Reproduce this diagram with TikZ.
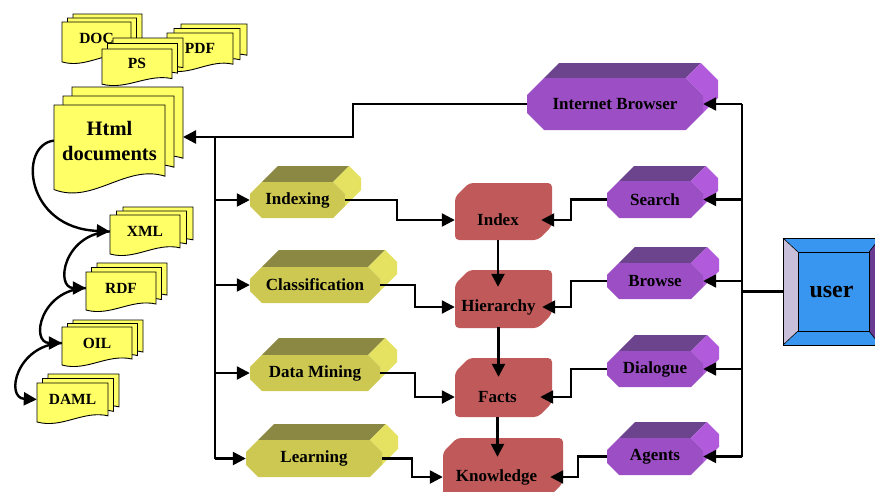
\documentclass[tikz,border=0pt]{standalone}
\usepackage{fontspec}
\setmainfont{Liberation Serif}
\usetikzlibrary{arrows.meta,positioning}
\definecolor{docyellow}{RGB}{255,255,102}
\definecolor{olvF}{RGB}{204,200,82}
\definecolor{olvT}{RGB}{138,136,66}
\definecolor{olvS}{RGB}{228,226,96}
\definecolor{purF}{RGB}{156,78,196}
\definecolor{purT}{RGB}{108,68,142}
\definecolor{purS}{RGB}{178,90,220}
\definecolor{facred}{RGB}{192,90,90}
\definecolor{usrblue}{RGB}{56,150,240}
\definecolor{usrlite}{RGB}{200,192,218}
\definecolor{usrdark}{RGB}{104,58,146}

\tikzset{
  docpage/.style={fill=docyellow, draw=black, line width=0.9pt},
  lbl/.style={inner sep=0pt, font=\fontsize{17}{17}\selectfont\bfseries},
  link/.style={draw, line width=2.4pt},
  arr/.style={link, -{Triangle[length=13pt,width=13pt]}},
}

% stacked pages: name, x1, y1, x2, y2, dx, dy, size, text
\newcommand{\docstack}[9]{%
  \foreach \k in {2,1,0}{
    \path[docpage, shift={({\k*#6},{-\k*#7})}] (#2,#3) -- (#4,#3) -- ({#4},{#5-0.2*(#5-#3)})
      .. controls ({#4-0.35*(#4-#2)},{#5-0.34*(#5-#3)}) and ({#2+0.35*(#4-#2)},{#5+0.12*(#5-#3)}) .. ({#2},{#5-0.05*(#5-#3)}) -- cycle;
  }
  \node[lbl, font=\fontsize{#8}{25}\selectfont\bfseries, align=center,
    minimum width={(#4-#2)*1pt}, minimum height={0.8*(#5-#3)*1pt}] (#1) at ({(#2+#4)/2},{#3+0.4*(#5-#3)}) {#9};
}

% extruded octagon: name, x1, y1, x2, y2, depth, colour, text
\newcommand{\prism}[8]{%
  \pgfmathsetmacro{\cc}{0.33*(#5-#3)}
  \fill[#7T] ({#2+\cc},#3) -- ++(#6,-#6) -- ({#4-\cc+#6},{#3-#6}) -- ({#4-\cc},#3) -- cycle;
  \fill[#7S] ({#4-\cc},#3) -- ({#4-\cc+#6},{#3-#6}) -- ({#4+#6},{#3+\cc-#6}) -- ({#4+#6},{#5-\cc-#6})
    -- ({#4},{#5-\cc}) -- ({#4},{#3+\cc}) -- cycle;
  \fill[#7F] ({#2+\cc},#3) -- ({#4-\cc},#3) -- ({#4},{#3+\cc}) -- ({#4},{#5-\cc}) -- ({#4-\cc},#5)
    -- ({#2+\cc},#5) -- ({#2},{#5-\cc}) -- ({#2},{#3+\cc}) -- cycle;
  \node[lbl, minimum width={(#4-#2)*1pt}, minimum height={(#5-#3)*1pt}] (#1) at ({(#2+#4)/2},{(#3+#5)/2}) {#8};
}

% store box with cut corners: x1, y1, x2, y2
\newcommand{\storebox}[4]{%
  \fill[facred, rounded corners=4pt] (#1,{#2+14}) -- ({#1+14},#2) -- (#3,#2) -- (#3,{#4-14}) -- ({#3-14},#4) -- (#1,#4) -- cycle;
}

\begin{document}
\begin{tikzpicture}[x=1pt,y=-1pt]
\useasboundingbox (0,0) rectangle (875,491);

% Documents
\docstack{doc}{62}{22}{131}{64}{5.5}{4}{15.5}{DOC}
\docstack{pdf}{167}{33}{233}{72}{7}{4.5}{15.5}{PDF}
\docstack{ps}{102}{49}{172}{86}{5.5}{5.5}{15.5}{PS}
\docstack{html}{54}{105}{165}{194}{9}{9}{20.5}{Html\\documents}
\docstack{xml}{110}{215}{180}{256}{6.5}{4}{15.5}{XML}
\docstack{rdf}{86}{272}{156}{312}{5.5}{4.5}{15.5}{RDF}
\docstack{oil}{62}{327}{132}{367}{5.5}{3.5}{15.5}{OIL}
\docstack{daml}{37}{383}{108}{424}{5.5}{4.5}{15.5}{DAML}

% Tools
\prism{idx}{250}{182}{345}{218}{16}{olv}{Indexing}
\prism{cls}{250}{267}{380}{303}{17}{olv}{Classification}
\prism{dm}{250}{355}{380}{391}{17}{olv}{Data Mining}
\prism{lrn}{246}{440}{382}{477}{16}{olv}{Learning}

% Access
\prism{ib}{527}{78}{703}{130}{15}{pur}{Internet Browser}
\prism{srch}{607}{181}{703}{218}{15}{pur}{Search}
\prism{brw}{607}{263}{703}{299}{16}{pur}{Browse}
\prism{dlg}{607}{351}{703}{387}{16}{pur}{Dialogue}
\prism{agt}{607}{438}{703}{475}{16}{pur}{Agents}

% Stores
\storebox{455}{183}{552}{240}
\storebox{455}{270}{552}{328}
\storebox{455}{358}{552}{417}
\storebox{443}{438}{563}{497}
\node[lbl, minimum width=86pt, minimum height=40pt] (index) at (498,220) {Index};
\node[lbl, minimum width=87pt, minimum height=40pt] (hier) at (498.5,307) {Hierarchy};
\node[lbl, minimum width=85pt, minimum height=40pt] (facts) at (497.5,397) {Facts};
\node[lbl, minimum width=107pt, minimum height=40pt] (know) at (496.5,477) {Knowledge};

% User button
\fill[usrblue] (783,238) rectangle (880,345);
\fill[usrlite] (783,238) -- (798,252) -- (798,331) -- (783,345) -- cycle;
\fill[usrdark] (880,238) -- (869,252) -- (869,331) -- (880,345) -- cycle;
\draw[line width=0.6pt] (783,238) -- (798,252) (880,238) -- (869,252) (783,345) -- (798,331) (880,345) -- (869,331);
\draw[line width=0.8pt] (798,252) rectangle (869,331);
\draw[line width=0.8pt] (783,238) rectangle (880,345);
\node[lbl, font=\fontsize{24}{24}\selectfont\bfseries, minimum width=97pt, minimum height=107pt] (usr) at (831.5,291.5) {user};

% Connectors
\coordinate (htmlin) at (183,137);
\coordinate (jogH) at (353,137);
\coordinate (busL) at (215,137);
\coordinate (busR) at (742,104);

\draw[arr] (ib.west) -| (jogH) -- (htmlin);
\draw[link] (busL) -- (busL |- lrn.west);
\foreach \n in {idx,cls,dm,lrn}
  \draw[arr] (busL |- \n.west) -- (\n.west);

\draw[link] (busR) -- (busR |- agt.east);
\foreach \n in {ib,srch,brw,dlg,agt}
  \draw[arr] (busR |- \n.east) -- (\n.east);
\draw[link] (usr.west) -- (usr.west -| busR);

\draw[arr] (idx.east) -- ++(52,0) |- (index.west);
\draw[arr] (cls.east) -- ++(35,0) |- (hier.west);
\draw[arr] (dm.east) -- ++(35,0) |- (facts.west);
\draw[arr] (lrn.east) -- ++(30,0) |- (know.west);

\draw[arr] (srch.west) -- ++(-36,0) |- (index.east);
\draw[arr] (brw.west) -- ++(-36,0) |- (hier.east);
\draw[arr] (dlg.west) -- ++(-36,0) |- (facts.east);
\draw[arr] (agt.west) -- ++(-29,0) |- (know.east);

\draw[arr] (index.south) -- (index.south |- hier.north);
\draw[arr] (hier.south) -- (hier.south |- facts.north);
\draw[arr] (facts.south) -- (facts.south |- know.north);

% Format chain
\draw[arr] (html.west) .. controls (18,145) and (25,228) .. (xml.west);
\draw[arr] (xml.west) .. controls (63,234) and (55,288) .. (rdf.west);
\draw[arr] (rdf.west) .. controls (40,290) and (30,343) .. (oil.west);
\draw[arr] (oil.west) .. controls (16,345) and (5,398) .. (daml.west);
\end{tikzpicture}
\end{document}
